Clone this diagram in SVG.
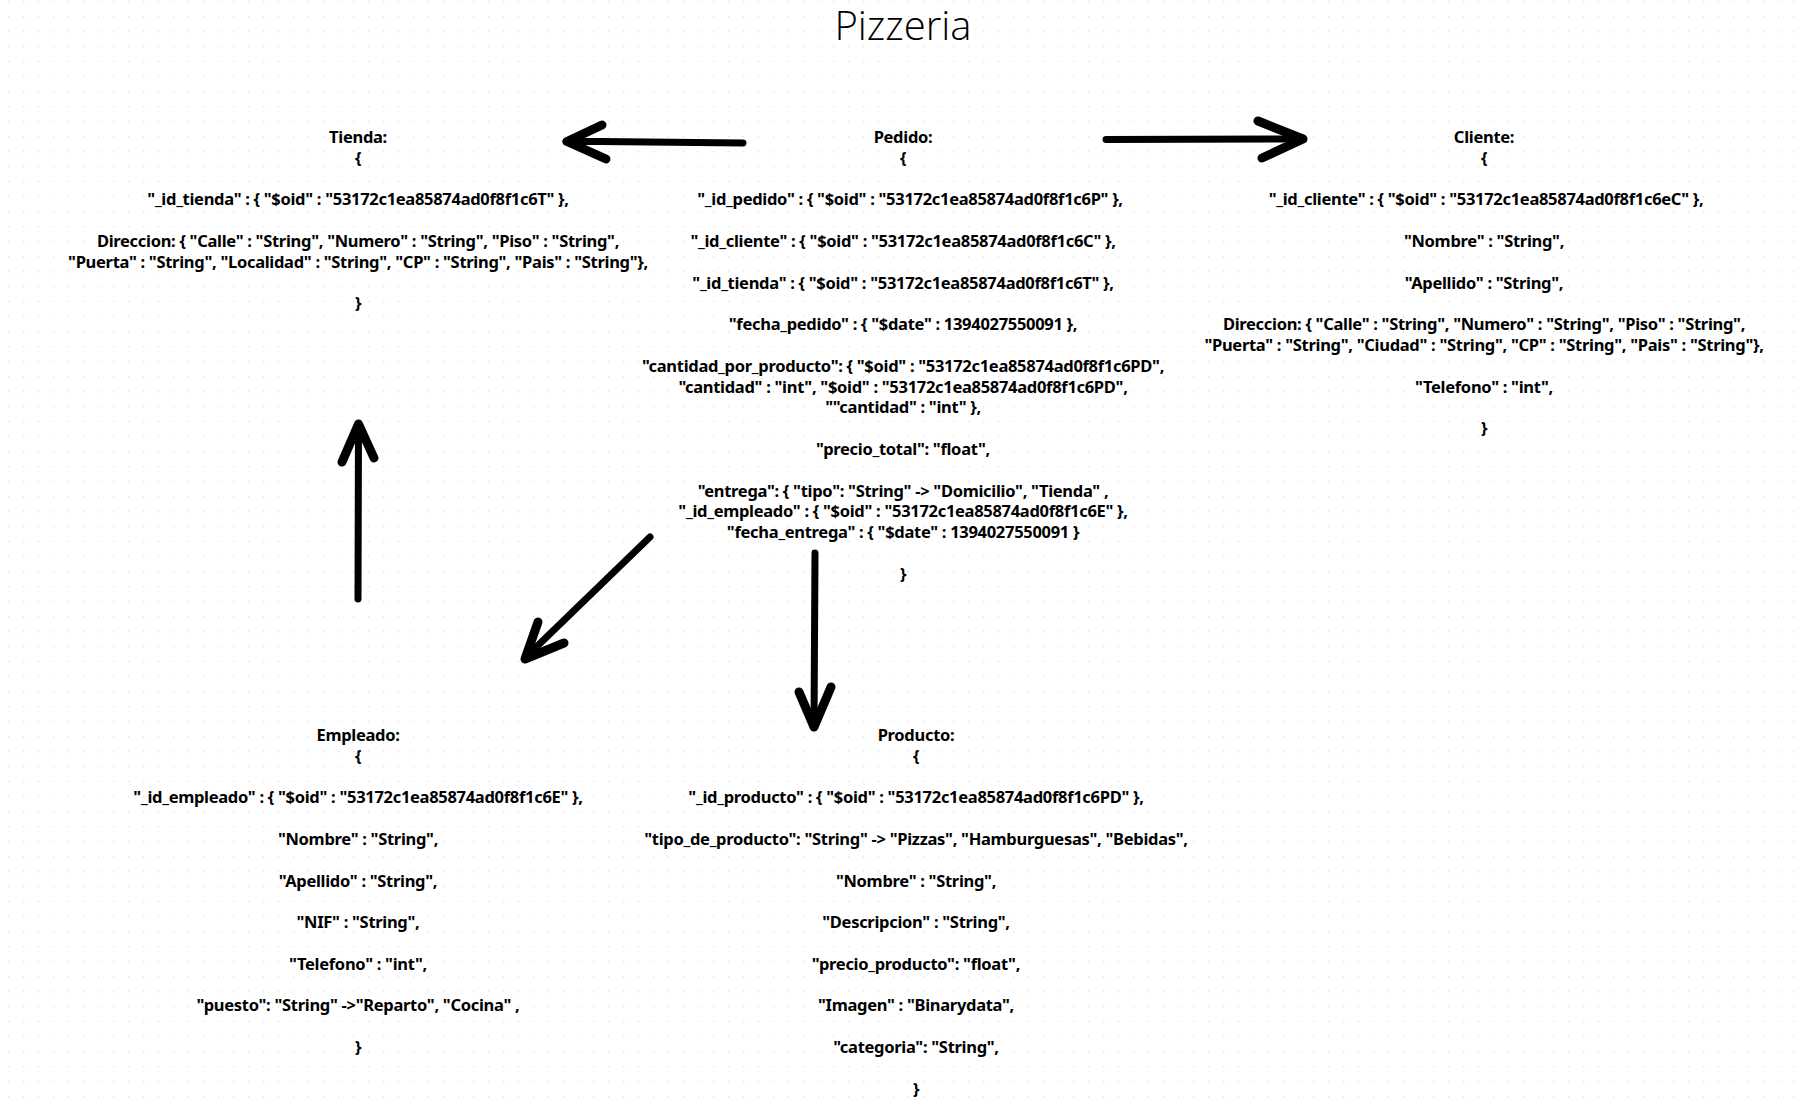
<svg xmlns="http://www.w3.org/2000/svg" width="1804" height="1105" viewBox="0 0 1804 1105">
<defs>
<pattern id="dots" x="8" y="1" width="15" height="15" patternUnits="userSpaceOnUse">
<circle cx="0" cy="0" r="1.4" fill="#dcdfe6"/>
</pattern>
</defs>
<style>
text{font-family:"Noto Sans","Open Sans",sans-serif;font-weight:700;font-size:16.5px;letter-spacing:-0.3px;fill:#000;text-anchor:middle}
.title{font-family:"Open Sans","Noto Sans",sans-serif;font-weight:300;font-size:40px;letter-spacing:0}
.ln{fill:none;stroke:#000;stroke-width:7;stroke-linecap:round;stroke-linejoin:round}
.hd{fill:none;stroke:#000;stroke-width:9;stroke-linecap:round;stroke-linejoin:round}
</style>
<rect width="1804" height="1105" fill="#fff"/>
<rect width="1804" height="1105" fill="url(#dots)"/>
<text class="title" x="903" y="40">Pizzeria</text>

<g id="tienda">
<text x="358" y="143">Tienda:</text>
<text x="358" y="163.8">{</text>
<text x="358" y="205.4">"_id_tienda" : { "$oid" : "53172c1ea85874ad0f8f1c6T" },</text>
<text x="358" y="247">Direccion: { "Calle" : "String", "Numero" : "String", "Piso" : "String",</text>
<text x="358" y="267.8">"Puerta" : "String", "Localidad" : "String", "CP" : "String", "Pais" : "String"},</text>
<text x="358" y="309.4">}</text>
</g>

<g id="pedido">
<text x="903" y="143">Pedido:</text>
<text x="903" y="163.8">{</text>
<text x="910" y="205.4">"_id_pedido" : { "$oid" : "53172c1ea85874ad0f8f1c6P" },</text>
<text x="903" y="247">"_id_cliente" : { "$oid" : "53172c1ea85874ad0f8f1c6C" },</text>
<text x="903" y="288.6">"_id_tienda" : { "$oid" : "53172c1ea85874ad0f8f1c6T" },</text>
<text x="903" y="330.2">"fecha_pedido" : { "$date" : 1394027550091 },</text>
<text x="903" y="371.8">"cantidad_por_producto": {  "$oid" : "53172c1ea85874ad0f8f1c6PD",</text>
<text x="903" y="392.6">"cantidad" : "int", "$oid" : "53172c1ea85874ad0f8f1c6PD",</text>
<text x="903" y="413.4">""cantidad" : "int" },</text>
<text x="903" y="455">"precio_total": "float",</text>
<text x="903" y="496.6">"entrega": { "tipo": "String" -&gt; "Domicilio", "Tienda" ,</text>
<text x="903" y="517.4">"_id_empleado" : { "$oid" : "53172c1ea85874ad0f8f1c6E" },</text>
<text x="903" y="538.2">"fecha_entrega" : { "$date" : 1394027550091 }</text>
<text x="903" y="579.8">}</text>
</g>

<g id="cliente">
<text x="1484" y="143">Cliente:</text>
<text x="1484" y="163.8">{</text>
<text x="1486" y="205.4">"_id_cliente" : { "$oid" : "53172c1ea85874ad0f8f1c6eC" },</text>
<text x="1484" y="247">"Nombre" : "String",</text>
<text x="1484" y="288.6">"Apellido" : "String",</text>
<text x="1484" y="330.2">Direccion: { "Calle" : "String", "Numero" : "String", "Piso" : "String",</text>
<text x="1484" y="351">"Puerta" : "String", "Ciudad" : "String", "CP" : "String", "Pais" : "String"},</text>
<text x="1484" y="392.6">"Telefono" : "int",</text>
<text x="1484" y="434.2">}</text>
</g>

<g id="empleado">
<text x="358" y="741">Empleado:</text>
<text x="358" y="761.8">{</text>
<text x="358" y="803.4">"_id_empleado" : { "$oid" : "53172c1ea85874ad0f8f1c6E" },</text>
<text x="358" y="845">"Nombre" : "String",</text>
<text x="358" y="886.6">"Apellido" : "String",</text>
<text x="358" y="928.2">"NIF" : "String",</text>
<text x="358" y="969.8">"Telefono" : "int",</text>
<text x="358" y="1011.4">"puesto": "String" -&gt;"Reparto", "Cocina" ,</text>
<text x="358" y="1053">}</text>
</g>

<g id="producto">
<text x="916" y="741">Producto:</text>
<text x="916" y="761.8">{</text>
<text x="916" y="803.4">"_id_producto" : { "$oid" : "53172c1ea85874ad0f8f1c6PD" },</text>
<text x="916" y="845">"tipo_de_producto": "String" -&gt; "Pizzas", "Hamburguesas", "Bebidas",</text>
<text x="916" y="886.6">"Nombre" : "String",</text>
<text x="916" y="928.2">"Descripcion" : "String",</text>
<text x="916" y="969.8">"precio_producto": "float",</text>
<text x="916" y="1011.4">"Imagen" : "Binarydata",</text>
<text x="916" y="1053">"categoria": "String",</text>
<text x="916" y="1094.6">}</text>
</g>

<g id="connectors">
<path class="ln" d="M743 143 L600 141.5 L566 141.5"/>
<path class="hd" d="M602 125 L567 141.5 L606 159"/>
<path class="ln" d="M1106 139.5 L1303 139"/>
<path class="hd" d="M1258 121 L1303 139 L1262 158"/>
<path class="ln" d="M358 599 L358.5 424"/>
<path class="hd" d="M342 462 L358.5 424 L374 458"/>
<path class="ln" d="M650 537 L526 657"/>
<path class="hd" d="M538 622 L525 659 L564 643"/>
<path class="ln" d="M815 553 L814 726"/>
<path class="hd" d="M799 692 L814 727 L831 687"/>
</g>
</svg>
